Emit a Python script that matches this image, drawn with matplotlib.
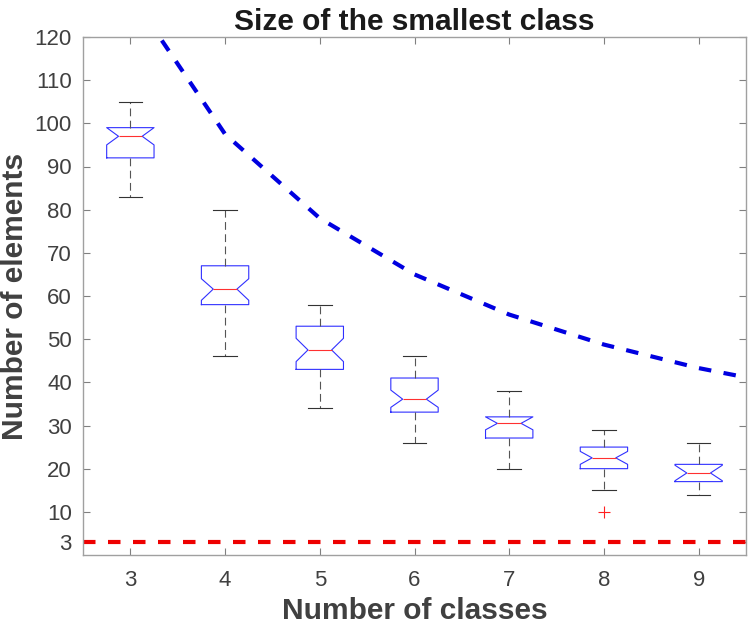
import matplotlib
matplotlib.use("Agg")
import matplotlib.pyplot as plt

plt.rcParams['font.family'] = ['Liberation Sans', 'DejaVu Sans']

# Data
classes = [3, 4, 5, 6, 7, 8, 9]
whislo = [83, 46, 34, 26, 20, 15, 14]
q1 = [92, 58, 43, 33.1, 27.1, 20, 17]
med = [97, 61.6, 47.5, 36.1, 30.5, 22.5, 19]
q3 = [99, 67, 53, 41, 32, 25, 21]
whishi = [105, 80, 58, 46, 38, 29, 26]
cilo = [95, 59, 44.8, 34.2, 29, 21, 17.2]
cihi = [99, 64, 50.2, 38.2, 32, 24, 20.8]
fliers = [[], [], [], [], [], [10], []]

bound_x = [3, 4, 5, 6, 7, 8, 9, 10]
bound_y = [130, 97.5, 78, 65, 55.7, 48.75, 43.3, 39]
min_size = 3

yticks = [3, 10, 20, 30, 40, 50, 60, 70, 80, 90, 100, 110, 120]

fig = plt.figure(figsize=(7.5, 6.29), dpi=100)
ax = fig.add_axes([83/750, 74/629, 663/750, 518/629])

stats = []
for i in range(len(classes)):
    stats.append(dict(whislo=whislo[i], q1=q1[i], med=med[i], q3=q3[i],
                      whishi=whishi[i], cilo=cilo[i], cihi=cihi[i],
                      fliers=fliers[i]))

ax.bxp(stats, positions=classes, widths=0.5, shownotches=True,
       boxprops=dict(color='#3030ff', linewidth=0.8),
       medianprops=dict(color='#ff3030', linewidth=0.8),
       whiskerprops=dict(color='#555555', linewidth=0.8, linestyle=(0, (7, 4))),
       capprops=dict(color='#333333', linewidth=0.8),
       flierprops=dict(marker='+', markeredgecolor='#ff2020', markersize=8,
                       markeredgewidth=0.8, linestyle='none'))

ax.plot(bound_x, bound_y, color='#0000e0', linewidth=3, linestyle=(0, (3, 3)))
ax.axhline(min_size, color='#ee0000', linewidth=3, linestyle=(0, (3, 3)))

ax.set_xlim(2.5, 9.5)
ax.set_ylim(0, 120)
ax.set_xticks(classes)
ax.set_xticklabels([str(c) for c in classes])
ax.set_yticks(yticks)
ax.set_yticklabels([str(t) for t in yticks])

txtc = '#404040'
ax.tick_params(direction='in', length=5, width=0.8, colors='#808080',
               labelcolor=txtc, labelsize=16, top=True, right=True)
ax.tick_params(axis='x', pad=11)
ax.tick_params(axis='y', pad=8)
for s in ax.spines.values():
    s.set_color('#a0a0a0')
    s.set_linewidth(1.0)

ax.set_title('Size of the smallest class', fontsize=21.5, fontweight='bold',
             color='#1a1a1a', pad=5)
ax.set_xlabel('Number of classes', fontsize=21.5, fontweight='bold', color=txtc, labelpad=4)
ax.set_ylabel('Number of elements', fontsize=21.5, fontweight='bold', color=txtc, labelpad=4)

fig.savefig('out.png', dpi=100)
